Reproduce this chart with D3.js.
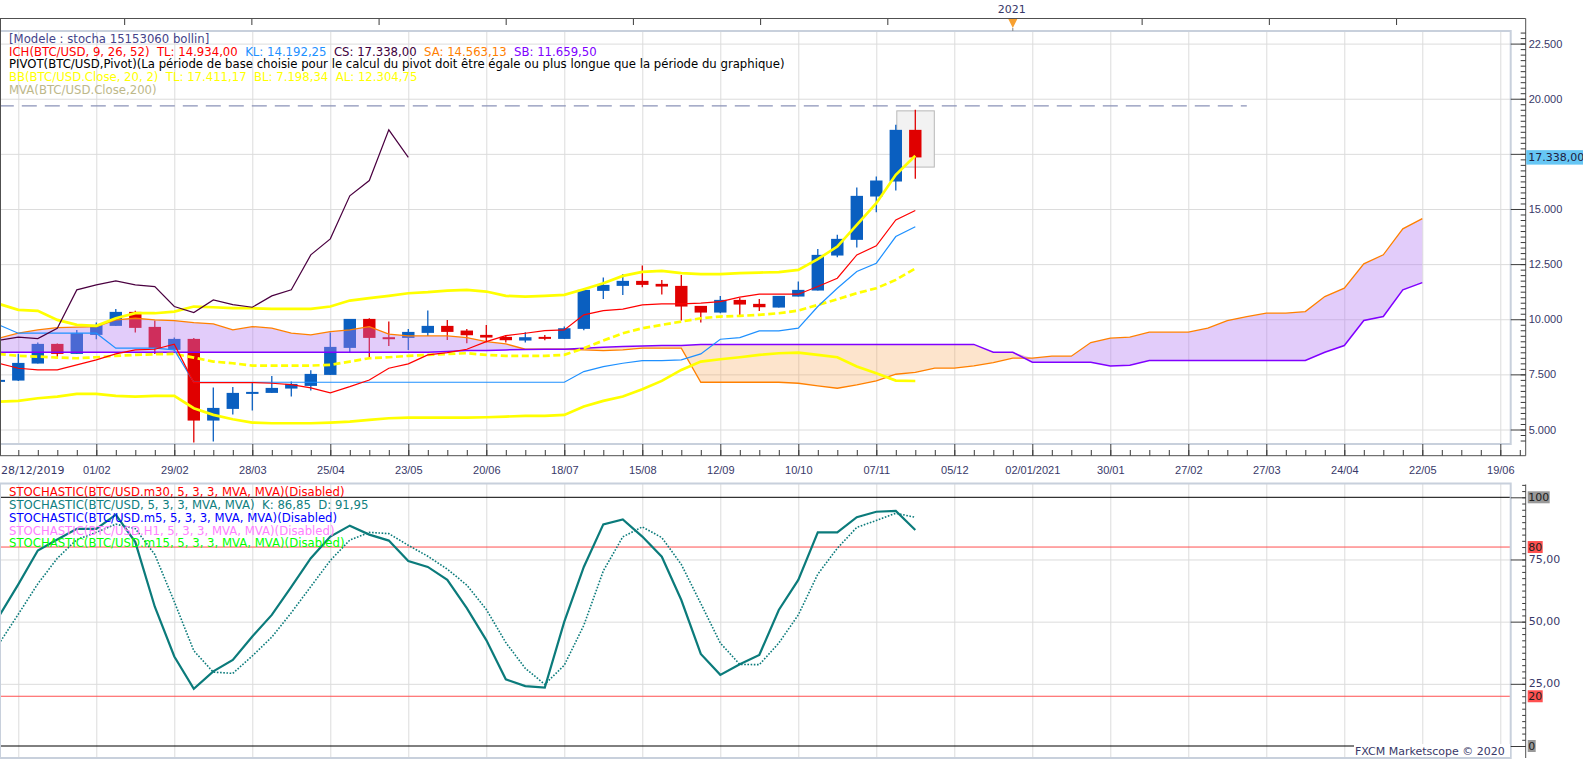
<!DOCTYPE html>
<html>
<head>
<meta charset="utf-8">
<script src="https://cdn.jsdelivr.net/npm/d3@7"></script>
<style>
  body { margin: 0; background: #fff; }
  svg { display: block; font-family: 'DejaVu Sans', Verdana, sans-serif; font-size: 11px; }
  .legend { white-space: pre; font-size: 11.7px; }
  .grid line { stroke: #dcdcdc; }
  .grid path { display: none; }
  .axis path { display: none; }
  .axis line { stroke: #3a3a3a; }
  .axis text { fill: #383868; font-size: 11px; }
</style>
</head>
<body>
<svg id="chart" width="1583" height="760"></svg>
<script>
// weekly BTC/USD candles, first one is the week of 28/12/2019
const firstWeek = '2019-12-28';
const open = [7160, 7219, 7990, 8882, 8428, 9290, 9699, 10334, 9653, 8610, 9109, 5405, 5934, 6614, 6660, 6856, 6977, 7476, 8701, 10016, 9185, 9154, 9381, 9699, 9487, 9290, 9200, 9034, 9200, 9109, 9563, 11286, 11513, 11740, 11604, 11513, 10606, 10303, 10878, 10697, 10530, 11029, 11301, 12889, 13600, 15565, 16246, 18589];
const high = [7350, 8430, 8943, 8900, 9517, 9850, 10470, 10380, 9940, 9170, 9150, 6901, 6932, 7128, 7430, 7174, 7688, 9396, 10016, 10050, 9895, 9563, 10394, 9970, 9563, 9744, 9290, 9411, 9290, 9668, 11400, 11891, 12057, 12435, 11785, 12012, 10606, 11059, 10969, 10923, 11059, 11710, 13191, 13826, 15973, 16472, 18816, 19496];
const low = [7050, 7200, 7990, 8232, 8428, 9094, 9699, 9396, 8428, 8550, 4407, 4452, 5677, 5858, 6660, 6493, 6765, 7476, 8519, 8247, 8791, 8610, 9245, 9064, 8912, 8943, 8943, 8943, 9049, 9109, 9500, 10923, 11105, 11450, 11120, 9940, 9850, 10273, 10198, 10379, 10530, 11029, 11301, 12813, 13252, 14855, 15837, 16367];
const close = [7250, 8020, 8882, 8428, 9366, 9744, 10334, 9608, 8686, 9109, 5405, 5979, 6660, 6705, 6886, 7068, 7521, 8746, 10016, 9154, 9170, 9426, 9699, 9426, 9275, 9170, 9049, 9185, 9124, 9593, 11332, 11558, 11740, 11558, 11483, 10576, 10303, 10878, 10666, 10545, 11059, 11332, 12919, 13645, 15595, 16291, 18589, 17338];

// Bollinger (20, 2)
const bbUpper = [10697, 10424, 10379, 9970, 9744, 9699, 10046, 10273, 10273, 10349, 10576, 10545, 10500, 10500, 10470, 10470, 10470, 10576, 10848, 10954, 11059, 11180, 11226, 11301, 11332, 11256, 11059, 11029, 11059, 11105, 11362, 11634, 11967, 12148, 12194, 12088, 12042, 12042, 12088, 12118, 12133, 12239, 12723, 13297, 14280, 15263, 16548, 17411.17];
const bbMid = [8428, 8338, 8308, 8262, 8232, 8277, 8338, 8383, 8413, 8428, 8262, 8081, 8005, 7899, 7899, 7899, 7899, 7930, 8081, 8232, 8277, 8338, 8383, 8428, 8459, 8383, 8338, 8338, 8338, 8383, 8686, 9034, 9366, 9593, 9744, 9895, 10046, 10122, 10152, 10198, 10273, 10394, 10651, 10908, 11180, 11407, 11785, 12304.75];
const bbLower = [6266, 6297, 6418, 6493, 6614, 6614, 6524, 6493, 6524, 6524, 5964, 5662, 5465, 5314, 5284, 5284, 5284, 5314, 5359, 5435, 5510, 5541, 5541, 5541, 5541, 5556, 5586, 5616, 5616, 5662, 6040, 6297, 6493, 6826, 7204, 7703, 8081, 8187, 8277, 8383, 8459, 8489, 8383, 8277, 7854, 7552, 7219, 7198.34];

// Ichimoku (9, 26, 52)
const tenkan = [8005, 7778, 7703, 7703, 7930, 8156, 8429, 8610, 8640, 8867, 7128, 7128, 7128, 7128, 7098, 7036, 6885, 6660, 6942, 7246, 7777, 7975, 8383, 8485, 8639, 8985, 9256, 9366, 9487, 9517, 10198, 10394, 10455, 10651, 10697, 10697, 10727, 10802, 11000, 11135, 11135, 11135, 11483, 11861, 12919, 13327, 14507, 14934];
const kijun = [9744, 9366, 9366, 9366, 9366, 9366, 8686, 8686, 8686, 8610, 7143, 7143, 7143, 7143, 7143, 7143, 7143, 7143, 7143, 7143, 7143, 7143, 7143, 7143, 7143, 7143, 7143, 7143, 7143, 7143, 7627, 7854, 8005, 8126, 8126, 8156, 8429, 9094, 9170, 9472, 9472, 9593, 10576, 11407, 12163, 12541, 13751, 14192.25];
// senkou spans run 26 weeks past the last candle
const senkouA = [9139, 9366, 9517, 9623, 9638, 9668, 9970, 10046, 9970, 9940, 9850, 9789, 9517, 9668, 9593, 9366, 9290, 9442, 9517, 9668, 9321, 9245, 9245, 9245, 9170, 8988, 8882, 8640, 8640, 8640, 8610, 8580, 8610, 8686, 8686, 8686, 7143, 7143, 7143, 7143, 7143, 7098, 6977, 6871, 7022, 7204, 7506, 7590, 7780, 7780, 7885, 8036, 8233, 8233, 8324, 8324, 8944, 9141, 9187, 9413, 9413, 9413, 9594, 9942, 10123, 10274, 10274, 10350, 11030, 11409, 12512, 12920, 14100, 14563.13];
const senkouB = [8504, 8504, 8504, 8504, 8504, 8504, 8504, 8504, 8504, 8504, 8504, 8504, 8504, 8504, 8504, 8504, 8504, 8504, 8504, 8504, 8504, 8504, 8504, 8540, 8580, 8580, 8610, 8625, 8640, 8640, 8686, 8731, 8761, 8792, 8807, 8807, 8860, 8860, 8860, 8860, 8860, 8860, 8860, 8860, 8860, 8860, 8860, 8860, 8860, 8860, 8860, 8505, 8505, 8052, 8052, 8052, 8052, 7885, 7915, 8127, 8127, 8127, 8127, 8127, 8127, 8127, 8127, 8127, 8505, 8808, 9942, 10123, 11333, 11659.5];

// pivot level and the highlighted last bar
const pivotLevel = 19680;
const pivotEndWeek = 64;
const lastBarBox = [19450, 16900];

// Stochastic (5, 3, 3)
const stochK = [52, 65, 78.6, 83, 87.3, 87.3, 93, 82, 56, 36, 23, 30, 34.6, 44, 52.7, 64, 75.5, 84.2, 88.6, 85, 82.6, 74.4, 72, 66.8, 55.4, 42.6, 26.8, 24.1, 23.5, 50, 72, 89.1, 91.1, 84.2, 76.1, 58.7, 37, 28.6, 32.9, 36.6, 54.7, 66.8, 85.9, 85.9, 92, 94.2, 94.5, 86.85];
const stochD = [41, 53, 65.2, 75.5, 83, 85.9, 89.2, 87.4, 77, 58, 38.3, 29.7, 29.2, 36.2, 43.8, 53.6, 64.1, 74.6, 82.8, 85.9, 85.4, 80.7, 76.3, 71.1, 64.7, 54.9, 41.6, 31.2, 24.8, 32.5, 48.5, 70.4, 84.1, 88.1, 83.8, 73, 57.3, 41.4, 32.8, 32.7, 41.4, 52.7, 69.1, 79.5, 87.9, 90.7, 93.6, 91.95];
const stochLevels = [80, 20];

const priceTicks = [5000, 7500, 10000, 12500, 15000, 17500, 20000, 22500];
const stochTicks = [0, 25, 50, 75, 100];
const yearMark = {date: '2020-12-26', label: '2021'};
const rulerStart = '2020-02-11';

const locale = d3.formatLocale({decimal: ',', thousands: '.', grouping: [3], currency: ['', '']});
const fmtInt = locale.format(',.0f'),
    fmt2 = locale.format(',.2f'),
    day = d3.utcParse('%Y-%m-%d'),
    fmtDM = d3.utcFormat('%d/%m'),
    fmtDMY = d3.utcFormat('%d/%m/%Y');

const weeks = d3.range(senkouA.length).map(i => d3.utcDay.offset(day(firstWeek), 7 * i));
const nBars = close.length;
const lastPrice = close[nBars - 1];

const svg = d3.select('#chart');
const plotRight = 1510.7, axisX = 1525.7;
const top1 = 31, bottom1 = 444, xAxisY = 455.7, rulerY = 18.5;
const top2 = 483.5, bottom2 = 758;

const x = d3.scaleUtc()
    .domain([day('2019-12-28'), day('2021-06-19')])
    .range([-1.2, 1500.3]);
const y = d3.scaleLinear().domain([5000, 22500]).range([429.5, 43.6]);
const yS = d3.scaleLinear().domain([0, 100]).range([746, 497.3]);

const defs = svg.append('defs');
defs.append('clipPath').attr('id', 'clipTop')
    .append('rect').attr('x', 0).attr('y', top1).attr('width', plotRight).attr('height', bottom1 - top1);
defs.append('clipPath').attr('id', 'clipBot')
    .append('rect').attr('x', 0).attr('y', top2).attr('width', plotRight).attr('height', bottom2 - top2);

const gridDates = d3.utcDay.range(day('2020-01-04'), day('2021-06-20'), 28);

// ---------- upper panel ----------
svg.append('g')
    .attr('class', 'grid')
    .attr('transform', `translate(0,${bottom1})`)
    .call(d3.axisBottom(x).tickValues(gridDates).tickSize(-(bottom1 - top1)).tickFormat(''));
svg.append('g')
    .attr('class', 'grid')
    .call(d3.axisRight(y).tickValues(priceTicks).tickSize(plotRight).tickFormat(''));

const chart = svg.append('g').attr('clip-path', 'url(#clipTop)');

// box round the current bar
chart.append('rect')
    .attr('x', x(weeks[nBars - 1]) - 18.5)
    .attr('y', y(lastBarBox[0]))
    .attr('width', 37.5)
    .attr('height', y(lastBarBox[1]) - y(lastBarBox[0]))
    .attr('fill', '#f2f2f2')
    .attr('stroke', '#b8b8b8');

const bars = chart.selectAll('.bar')
    .data(d3.range(nBars))
    .enter()
    .append('g')
    .attr('class', 'bar');
const barColor = i => close[i] >= open[i] ? '#0a5fc0' : '#e00000';
bars.append('line')
    .attr('x1', i => x(weeks[i]))
    .attr('x2', i => x(weeks[i]))
    .attr('y1', i => y(high[i]))
    .attr('y2', i => y(low[i]))
    .attr('stroke', barColor)
    .attr('stroke-width', 1.3);
bars.append('rect')
    .attr('x', i => x(weeks[i]) - 6.2)
    .attr('y', i => y(Math.max(open[i], close[i])))
    .attr('width', 12.4)
    .attr('height', i => Math.max(2, Math.abs(y(open[i]) - y(close[i]))))
    .attr('fill', barColor);

// kumo
const cloud = d3.range(senkouA.length);
chart.append('path')
    .datum(cloud)
    .attr('fill', '#b379f2')
    .attr('fill-opacity', 0.38)
    .attr('d', d3.area()
        .x(i => x(weeks[i]))
        .y0(i => y(senkouB[i]))
        .y1(i => y(Math.max(senkouA[i], senkouB[i]))));
chart.append('path')
    .datum(cloud)
    .attr('fill', '#f8a555')
    .attr('fill-opacity', 0.3)
    .attr('d', d3.area()
        .x(i => x(weeks[i]))
        .y0(i => y(senkouA[i]))
        .y1(i => y(Math.max(senkouA[i], senkouB[i]))));

const line = (arr, offset = 0) => d3.line()
    .x((v, i) => x(weeks[i + offset]))
    .y(v => y(v))(arr);

const drawLine = (d, color, width, dash) => chart.append('path')
    .attr('d', d)
    .attr('fill', 'none')
    .attr('stroke', color)
    .attr('stroke-width', width)
    .attr('stroke-dasharray', dash || null);

drawLine(line(senkouA), '#ff8000', 1.3);
drawLine(line(senkouB), '#8000ff', 1.5);
drawLine(line(bbUpper), '#ffff00', 2.7);
drawLine(line(bbLower), '#ffff00', 2.7);
drawLine(line(bbMid), '#ffff00', 2.7, '7,3.5');
drawLine(line(kijun), '#1e90ff', 1.2);
drawLine(line(tenkan), '#ff0000', 1.2);
// chikou: closes moved back 26 weeks
drawLine(line(close.slice(26)), '#4a0040', 1.2);

chart.append('line')
    .attr('x1', x(weeks[0]))
    .attr('x2', x(weeks[pivotEndWeek]))
    .attr('y1', y(pivotLevel))
    .attr('y2', y(pivotLevel))
    .attr('stroke', '#8a92b8')
    .attr('stroke-width', 1.2)
    .attr('stroke-dasharray', '15,8');

// frame
svg.append('rect')
    .attr('x', 0).attr('y', top1)
    .attr('width', plotRight).attr('height', bottom1 - top1)
    .attr('fill', 'none').attr('stroke', '#c8d0dc').attr('stroke-width', 2);

// top ruler with the year marker
const yearDate = day(yearMark.date);
const rulerTicks = d3.range(0, 11)
    .map(k => d3.utcHour.offset(day(rulerStart), Math.round(k * 365.25 / 8 * 24)))
    .filter(d => Math.abs(x(d) - x(yearDate)) > 10);
svg.append('g')
    .attr('class', 'axis')
    .attr('transform', `translate(0,${rulerY})`)
    .call(d3.axisBottom(x).tickValues(rulerTicks).tickSize(6.5).tickFormat(''));
svg.append('line')
    .attr('x1', 0).attr('x2', axisX).attr('y1', rulerY).attr('y2', rulerY)
    .attr('stroke', '#505050');
svg.append('path')
    .attr('d', `M${x(yearDate) - 4.5},${rulerY + 0.5}L${x(yearDate) + 4.5},${rulerY + 0.5}L${x(yearDate)},${rulerY + 9.5}Z`)
    .attr('fill', '#f7a030');
svg.append('line')
    .attr('x1', x(yearDate)).attr('x2', x(yearDate)).attr('y1', rulerY + 9.5).attr('y2', top1)
    .attr('stroke', '#808080');
svg.append('text')
    .attr('x', x(yearDate) - 1)
    .attr('y', 9)
    .attr('text-anchor', 'middle')
    .attr('dominant-baseline', 'central')
    .attr('fill', '#383868')
    .text(yearMark.label);

// left and right axis lines
svg.append('line')
    .attr('x1', 0.5).attr('x2', 0.5).attr('y1', rulerY).attr('y2', xAxisY)
    .attr('stroke', '#505050');
svg.append('line')
    .attr('x1', axisX).attr('x2', axisX).attr('y1', rulerY).attr('y2', xAxisY)
    .attr('stroke', '#505050');

// price axis; the label under the current price tag is left out
svg.append('g')
    .attr('class', 'axis')
    .attr('transform', `translate(${axisX},0)`)
    .call(d3.axisRight(y).tickValues(d3.range(4500, 23001, 250)).tickSize(-5).tickFormat(''));
svg.append('g')
    .attr('class', 'axis')
    .attr('transform', `translate(${axisX},0)`)
    .call(d3.axisRight(y).tickValues(priceTicks).tickSize(-15).tickFormat(''));
svg.append('g')
    .attr('class', 'axis')
    .attr('transform', `translate(${axisX},0)`)
    .call(d3.axisRight(y)
        .tickValues(priceTicks.filter(v => Math.abs(y(v) - y(lastPrice)) > 12))
        .tickSize(0).tickPadding(3).tickFormat(fmtInt));

// current price tag
svg.append('rect')
    .attr('x', axisX + 0.5)
    .attr('y', y(lastPrice) - 7.3)
    .attr('width', 70)
    .attr('height', 14.5)
    .attr('fill', '#66c6f4');
svg.append('text')
    .attr('x', axisX + 2.5)
    .attr('y', y(lastPrice))
    .attr('dominant-baseline', 'central')
    .attr('fill', '#202040')
    .text(fmt2(lastPrice));

// date axis
svg.append('line')
    .attr('x1', 0).attr('x2', axisX).attr('y1', xAxisY).attr('y2', xAxisY)
    .attr('stroke', '#505050');
svg.append('g')
    .attr('class', 'axis')
    .attr('transform', `translate(0,${xAxisY})`)
    .call(d3.axisBottom(x).tickValues(d3.utcDay.range(day(firstWeek), day('2021-06-27'), 7)).tickSize(-5.7).tickFormat(''));
svg.append('g')
    .attr('class', 'axis')
    .attr('transform', `translate(0,${xAxisY})`)
    .call(d3.axisBottom(x)
        .tickValues(gridDates.filter(d => d >= day('2020-02-01')))
        .tickSize(-11.7)
        .tickPadding(10.5)
        .tickFormat(d => d.getUTCMonth() === 0 && d.getUTCDate() <= 28 ? fmtDMY(d) : fmtDM(d)));
svg.append('text')
    .attr('x', 1)
    .attr('y', xAxisY + 14.5)
    .attr('dominant-baseline', 'central')
    .attr('fill', '#383868')
    .text(fmtDMY(weeks[0]));

// legend
const legendTop = [
    [['[Modele : stocha 15153060 bollin]', '#44448a']],
    [[`ICH(BTC/USD, 9, 26, 52)  TL: ${fmt2(tenkan[nBars - 1])}`, '#ff0000'],
        [`  KL: ${fmt2(kijun[nBars - 1])}`, '#1e90ff'],
        [`  CS: ${fmt2(close[nBars - 1])}`, '#400040'],
        [`  SA: ${fmt2(senkouA[senkouA.length - 1])}`, '#ff8000'],
        [`  SB: ${fmt2(senkouB[senkouB.length - 1])}`, '#8000ff']],
    [['PIVOT(BTC/USD,Pivot)(La période de base choisie pour le calcul du pivot doit être égale ou plus longue que la période du graphique)', '#000000']],
    [[`BB(BTC/USD.Close, 20, 2)  TL: ${fmt2(bbUpper[nBars - 1])}  BL: ${fmt2(bbLower[nBars - 1])}  AL: ${fmt2(bbMid[nBars - 1])}`, '#ffff00']],
    [['MVA(BTC/USD.Close,200)', '#bdb88a']]
];
legendTop.forEach((parts, row) => {
    const t = svg.append('text')
        .attr('class', 'legend')
        .attr('x', 9)
        .attr('y', 39 + row * 12.67)
        .attr('dominant-baseline', 'central');
    parts.forEach(p => t.append('tspan').attr('fill', p[1]).text(p[0]));
});

// ---------- lower panel ----------
svg.append('g')
    .attr('class', 'grid')
    .attr('transform', `translate(0,${bottom2})`)
    .call(d3.axisBottom(x).tickValues(gridDates).tickSize(-(bottom2 - top2)).tickFormat(''));
svg.append('g')
    .attr('class', 'grid')
    .call(d3.axisRight(yS).tickValues([25, 50, 75]).tickSize(plotRight).tickFormat(''));

const lower = svg.append('g').attr('clip-path', 'url(#clipBot)');
lower.selectAll('.level')
    .data(stochLevels)
    .enter()
    .append('line')
    .attr('x1', 0).attr('x2', plotRight)
    .attr('y1', d => yS(d)).attr('y2', d => yS(d))
    .attr('stroke', '#ff5050');
lower.selectAll('.edge')
    .data([0, 100])
    .enter()
    .append('line')
    .attr('x1', 0).attr('x2', plotRight)
    .attr('y1', d => yS(d)).attr('y2', d => yS(d))
    .attr('stroke', '#000000');

const legendBot = [
    ['STOCHASTIC(BTC/USD.m30, 5, 3, 3, MVA, MVA)(Disabled)', '#ff0000'],
    [`STOCHASTIC(BTC/USD, 5, 3, 3, MVA, MVA)  K: ${fmt2(stochK[nBars - 1])}  D: ${fmt2(stochD[nBars - 1])}`, '#108080'],
    ['STOCHASTIC(BTC/USD.m5, 5, 3, 3, MVA, MVA)(Disabled)', '#0000ff'],
    ['STOCHASTIC(BTC/USD.H1, 5, 3, 3, MVA, MVA)(Disabled)', '#ff80ff'],
    ['STOCHASTIC(BTC/USD.m15, 5, 3, 3, MVA, MVA)(Disabled)', '#00ff00']
];
legendBot.forEach((p, row) => {
    svg.append('text')
        .attr('class', 'legend')
        .attr('x', 9)
        .attr('y', 492.3 + row * 12.75)
        .attr('dominant-baseline', 'central')
        .attr('fill', p[1])
        .text(p[0]);
});

const stochLine = d3.line()
    .x((v, i) => x(weeks[i]))
    .y(v => yS(v));
lower.append('path')
    .attr('d', stochLine(stochD))
    .attr('fill', 'none')
    .attr('stroke', '#0b7b7b')
    .attr('stroke-width', 1.6)
    .attr('stroke-dasharray', '1.6,1.6');
lower.append('path')
    .attr('d', stochLine(stochK))
    .attr('fill', 'none')
    .attr('stroke', '#0b7b7b')
    .attr('stroke-width', 2.2);

svg.append('rect')
    .attr('x', 0).attr('y', top2)
    .attr('width', plotRight).attr('height', bottom2 - top2)
    .attr('fill', 'none').attr('stroke', '#c8d0dc').attr('stroke-width', 2);

svg.append('line')
    .attr('x1', axisX).attr('x2', axisX).attr('y1', top2 + 1).attr('y2', bottom2)
    .attr('stroke', '#505050');
svg.append('g')
    .attr('class', 'axis')
    .attr('transform', `translate(${axisX},0)`)
    .call(d3.axisRight(yS).tickValues(d3.range(0, 105.1, 2.5)).tickSize(-3.5).tickFormat(''));
svg.append('g')
    .attr('class', 'axis')
    .attr('transform', `translate(${axisX},0)`)
    .call(d3.axisRight(yS).tickValues(stochTicks).tickSize(-15).tickFormat(''));

// stochastic axis labels, the fixed levels sit on coloured tags
const tagged = [[100, '#999999'], [stochLevels[0], '#ff5050'], [stochLevels[1], '#ff5050'], [0, '#999999']];
tagged.forEach(([v, bg]) => {
    const label = String(v);
    svg.append('rect')
        .attr('x', axisX + 2)
        .attr('y', yS(v) - 6)
        .attr('width', label.length * 7 + 1)
        .attr('height', 12)
        .attr('fill', bg);
    svg.append('text')
        .attr('x', axisX + 2.5)
        .attr('y', yS(v))
        .attr('dominant-baseline', 'central')
        .attr('fill', '#202020')
        .text(label);
});
[25, 50, 75].forEach(v => {
    svg.append('text')
        .attr('x', axisX + 3)
        .attr('y', yS(v))
        .attr('dominant-baseline', 'central')
        .attr('fill', '#383868')
        .text(fmt2(v));
});

// watermark
svg.append('rect')
    .attr('x', 1354).attr('y', 744).attr('width', 156).attr('height', 13)
    .attr('fill', '#ffffff');
svg.append('text')
    .attr('x', 1355)
    .attr('y', 751.5)
    .attr('dominant-baseline', 'central')
    .attr('fill', '#383868')
    .text('FXCM Marketscope © 2020');
</script>
</body>
</html>
